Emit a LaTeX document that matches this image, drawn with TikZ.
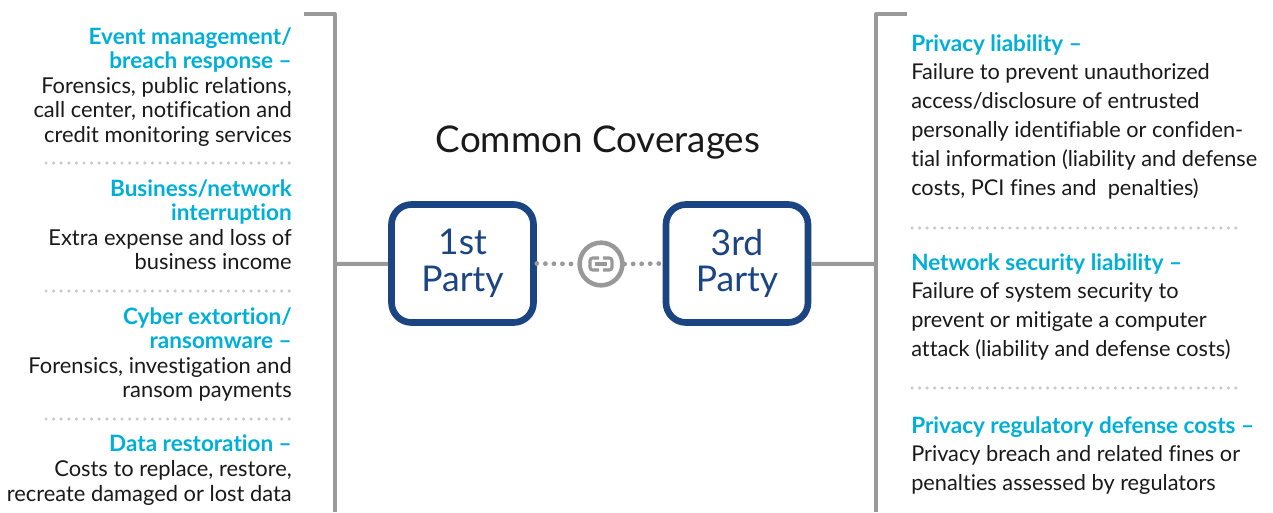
\documentclass[tikz,border=0pt]{standalone}
\usepackage{fontspec}
\setmainfont{Lato}[Ligatures=NoCommon]
\usetikzlibrary{positioning}
\definecolor{headcyan}{HTML}{00AFD7}
\definecolor{partyblue}{HTML}{1B4482}
\definecolor{railgray}{HTML}{999999}
\definecolor{dotgray}{HTML}{C8C8C8}
\newcommand{\hd}[1]{\textcolor{headcyan}{\fontsize{16.9}{18.4}\selectfont\bfseries #1}}
\tikzset{
  leftblock/.style={anchor=north east,align=right,inner sep=0pt,text=black!90,font=\fontsize{16.4}{18.4}\selectfont},
  rightblock/.style={anchor=north west,align=left,inner sep=0pt,text=black!90,font=\fontsize{16.3}{21.6}\selectfont},
  partybox/.style={draw=partyblue,line width=5pt,rounded corners=15pt,fill=white,minimum width=106.5pt,minimum height=88.5pt,align=center,text=partyblue,inner sep=0pt,font=\fontsize{26.6}{27.4}\selectfont},
  rail/.style={draw=railgray,line width=3pt,line join=round},
  linkdots/.style={draw=railgray,line width=3.6pt,line cap=round,dash pattern=on 0pt off 6.4pt},
  sepdots/.style={draw=dotgray,line width=2.6pt,line cap=round,dash pattern=on 0pt off 5.7pt},
}
\begin{document}
\begin{tikzpicture}[x=.75pt,y=-.75pt]
\useasboundingbox (0,0) rectangle (1273,512);
% brackets
\coordinate (ltop) at (304,14); \coordinate (lcorner) at (334.5,14); \coordinate (lend) at (334.5,512); \coordinate (lmid) at (334.5,264);
\coordinate (rtop) at (907,14); \coordinate (rcorner) at (876,14); \coordinate (rend) at (876,512); \coordinate (rmid) at (876,264);
\draw[rail] (ltop)--(lcorner)--(lend);
\draw[rail] (rtop)--(rcorner)--(rend);
% title and boxes
\node[inner sep=0pt,font=\fontsize{27.6}{30}\selectfont,text=black!90] (title) at (598,143) {Common Coverages};
\node[partybox] (first) at (462.5,263.5) {\raisebox{1pt}{1st}\\\raisebox{1pt}{Party}};
\node[partybox] (third) at (737,263.5) {\raisebox{1pt}{3rd}\\\raisebox{1pt}{Party}};
\node[circle,draw=railgray,line width=3.4pt,fill=white,minimum size=32pt,inner sep=0pt] (link) at (601,264) {};
\draw[rail] (lmid)--(first);
\draw[rail] (third)--(rmid);
\draw[linkdots] (first.east)--(link.west);
\draw[linkdots] (link.east)--(third.west);
% chain icon
\draw[railgray,line width=2.3pt,rounded corners=2pt] (599,258)--(590,258)--(590,270)--(599,270);
\draw[railgray,line width=2.3pt,rounded corners=2pt] (603,258)--(612,258)--(612,270)--(603,270);
\draw[railgray,line width=2.3pt] (595,264)--(607,264);
% left column
\node[leftblock] (event) at (292,27) {\hd{Event management/}\\\hd{breach response –}\\Forensics, public relations,\\call center, notification and\\credit monitoring services};
\node[leftblock] (business) at (292,179) {\hd{Business/network}\\\hd{interruption}\\Extra expense and loss of\\business income};
\node[leftblock] (cyber) at (292,307) {\hd{Cyber extortion/}\\\hd{ransomware –}\\Forensics, investigation and\\ransom payments};
\node[leftblock] (data) at (292,435) {\hd{Data restoration –}\\Costs to replace, restore,\\recreate damaged or lost data};
\draw[sepdots] (46,163)--(290,163);
\draw[sepdots] (46,291)--(290,291);
\draw[sepdots] (46,419)--(290,419);
% right column
\node[rightblock] (privacy) at (911,34) {\hd{Privacy liability –}\\Failure to prevent unauthorized\\access/disclosure of entrusted\\personally identifiable or confiden-\\tial information (liability and defense\\costs, PCI fines and\ \ penalties)};
\node[rightblock] (network) at (911,253) {\hd{Network security liability –}\\Failure of system security to\\prevent or mitigate a computer\\attack (liability and defense costs)};
\node[rightblock] (regulatory) at (911,416) {\hd{Privacy regulatory defense costs –}\\Privacy breach and related fines or\\penalties assessed by regulators};
\draw[sepdots,dash pattern=on 0pt off 5.65pt] (912,228)--(1236,228);
\draw[sepdots,dash pattern=on 0pt off 5.65pt] (912,388)--(1236,388);
\end{tikzpicture}
\end{document}
